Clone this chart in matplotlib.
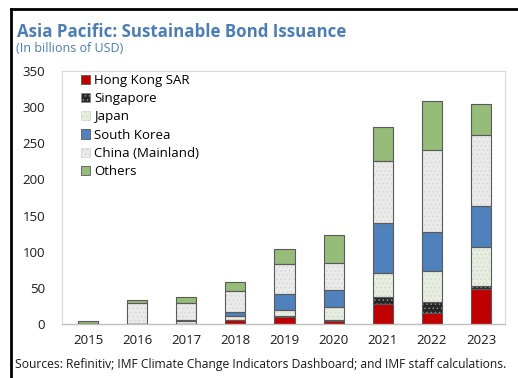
import numpy as np
import matplotlib
matplotlib.use("Agg")
import matplotlib.pyplot as plt
from matplotlib.lines import Line2D

plt.rcParams['font.family'] = ['Open Sans', 'DejaVu Sans']
plt.rcParams['hatch.linewidth'] = 0.6

years = ["2015", "2016", "2017", "2018", "2019", "2020", "2021", "2022", "2023"]
hong_kong = [0, 0, 0, 5, 9, 4, 28, 15, 48]
singapore = [0, 0, 0, 0.5, 2, 2, 10, 15, 4]
japan = [0, 0.5, 4, 5, 9, 18, 33, 43, 55]
south_korea = [0, 0, 1, 6.5, 22, 23, 69, 54, 56]
china = [0.5, 28.5, 24, 29, 41, 38, 85, 114, 99]
others = [3.5, 3.5, 8, 11.5, 21, 38, 48, 67, 42]

series = [
    ("Hong Kong SAR", hong_kong, "#C00000", None, None),
    ("Singapore", singapore, "#262626", "....", "#8C8C8C"),
    ("Japan", japan, "#E7EEDF", "....", "#D3DACB"),
    ("South Korea", south_korea, "#4F81BD", None, None),
    ("China (Mainland)", china, "#EAEAEA", "....", "#D6D6D6"),
    ("Others", others, "#96BC7A", None, None),
]

fig = plt.figure(figsize=(5.18, 3.78), dpi=100)
ax = fig.add_axes([0.1197, 0.1429, 0.8553, 0.6693])

x = np.arange(len(years))
width = 0.41
bottom = np.zeros(len(years))
handles = []
for name, vals, color, hatch, hcol in series:
    vals = np.array(vals, dtype=float)
    if hatch:
        # fill + dots first, then a plain outline on top
        ax.bar(x, vals, width, bottom=bottom, color=color, edgecolor=hcol,
               hatch=hatch, linewidth=0, zorder=2)
    else:
        ax.bar(x, vals, width, bottom=bottom, color=color, linewidth=0, zorder=2)
    ax.bar(x, vals, width, bottom=bottom, fill=False, edgecolor="#5A5A5A",
           linewidth=0.8, zorder=3)
    bottom += vals
    handles.append(plt.Rectangle((0, 0), 1, 1, facecolor=color,
                                 edgecolor=hcol if hatch else "#5A5A5A",
                                 hatch=hatch, linewidth=0.6, label=name))

ax.set_xlim(-0.53, 8.49)
ax.set_ylim(0, 350)
ax.set_yticks(np.arange(0, 351, 50))
ax.set_xticks(x)
ax.set_xticklabels(years)
ax.tick_params(axis="both", length=0, labelsize=9.5, colors="#1A1A1A")
ax.tick_params(axis="y", pad=12)
ax.tick_params(axis="x", pad=7)
for side in ["top", "right", "left"]:
    ax.spines[side].set_color("#D9D9D9")
    ax.spines[side].set_linewidth(0.8)
ax.spines["bottom"].set_color("#BFBFBF")
ax.spines["bottom"].set_linewidth(1.0)

ax.legend(handles=handles, loc="upper left", bbox_to_anchor=(0.025, 1.02),
          frameon=False, fontsize=9.5, handlelength=0.7, handleheight=0.7,
          handletextpad=0.3, labelspacing=0.40, borderaxespad=0.2)

fig.text(0.033, 0.915, "Asia Pacific: Sustainable Bond Issuance", fontsize=12.2,
         fontweight="bold", color="#4C7EB5", va="center", ha="left")
fig.text(0.031, 0.873, "(In billions of USD)", fontsize=9, color="#4C7EB5",
         va="center", ha="left")
fig.text(0.029, 0.037,
         "Sources: Refinitiv; IMF Climate Change Indicators Dashboard; and IMF staff calculations.",
         fontsize=8.7, color="#1A1A1A", va="center", ha="left")

# dark frame at the top and left edges
fig.add_artist(Line2D([0.021, 0.021], [0, 0.976], transform=fig.transFigure,
                      color="black", linewidth=2))
fig.add_artist(Line2D([0.021, 1.0], [0.976, 0.976], transform=fig.transFigure,
                      color="black", linewidth=2))

fig.savefig("out.png", dpi=100)
